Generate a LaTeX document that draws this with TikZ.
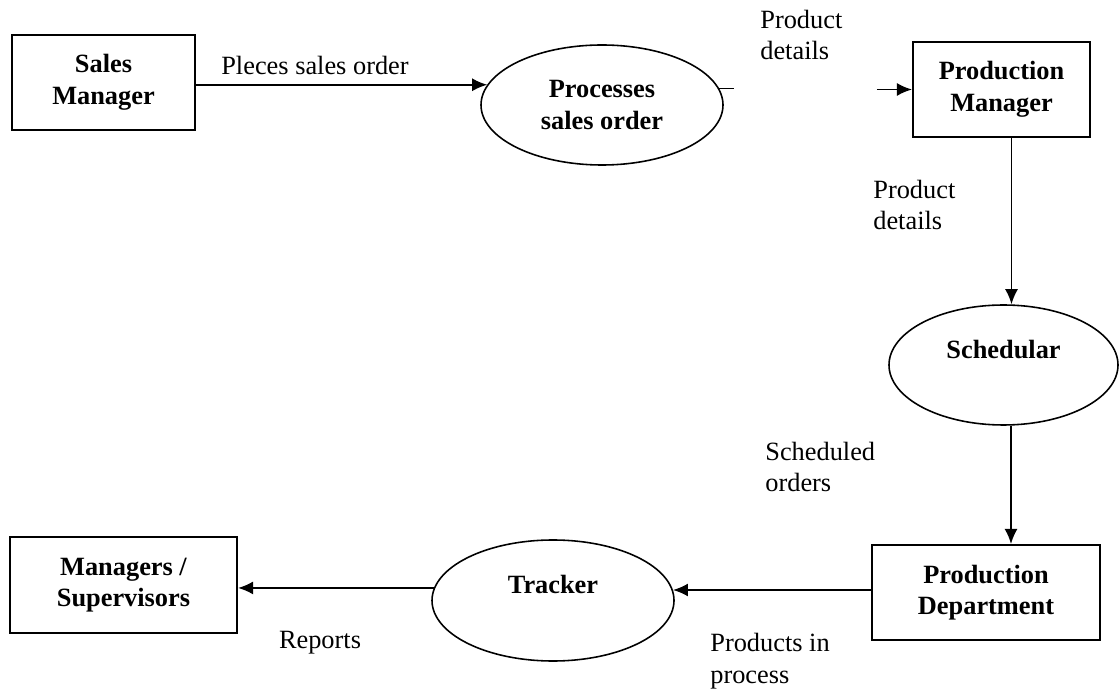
\documentclass[tikz,border=0pt]{standalone}
\usepackage{fontspec}
\setmainfont{Liberation Serif}
\usetikzlibrary{shapes.geometric,arrows.meta}

\begin{document}
\begin{tikzpicture}[
    entity/.style={draw, line width=1.2pt, inner sep=0pt, align=center,
      font=\fontsize{15}{18}\selectfont\bfseries},
    process/.style={draw, ellipse, line width=0.9pt, inner sep=0pt},
    ptext/.style={align=center, font=\fontsize{15}{18}\selectfont\bfseries},
    note/.style={align=left, inner sep=0pt, font=\fontsize{15}{18}\selectfont},
    flow/.style={line width=1pt, -{Latex[length=3mm,width=2.6mm]}}
  ]
  \useasboundingbox (0,0) rectangle (22.4,-13.78);

  % boxes
  \node[entity, minimum width=3.66cm, minimum height=1.9cm] (sm) at (2.07,-1.65) {Sales\\Manager};
  \node[entity, minimum width=3.54cm, minimum height=1.9cm] (pm) at (20.03,-1.79) {Production\\Manager};
  \node[entity, minimum width=4.56cm, minimum height=1.9cm] (pd) at (19.72,-11.85) {Production\\Department};
  \node[entity, minimum width=4.54cm, minimum height=1.92cm] (mg) at (2.47,-11.7) {Managers /\\Supervisors};

  % processes (single line text sits a bit above the middle)
  \node[process, minimum width=4.84cm, minimum height=2.4cm] (pso) at (12.04,-2.1) {};
  \node[ptext] at (pso.center) {Processes\\sales order};
  \node[process, minimum width=4.58cm, minimum height=2.4cm] (sch) at (20.07,-7.3) {};
  \node[ptext] at ([yshift=0.3cm]sch.center) {Schedular};
  \node[process, minimum width=4.84cm, minimum height=2.42cm] (tr) at (11.06,-12.01) {};
  \node[ptext] at ([yshift=0.32cm]tr.center) {Tracker};

  % flows
  \draw[flow] (sm.east |- pso.170) -- (pso.170);
  \coordinate (stub) at ([xshift=0.3cm]pso.8);
  \draw[line width=1pt] (pso.8) -- (stub);
  \coordinate (feed) at ([xshift=-0.7cm]pm.west);
  \draw[flow] (feed) -- (pm.west);
  \draw[flow] ([xshift=0.2cm]pm.south) -- ([xshift=0.2cm]pm.south |- sch.north);
  \draw[flow] ([xshift=0.15cm]sch.south) -- ([xshift=0.15cm]sch.south |- pd.north);
  \draw[flow] (pd.west |- tr.5) -- (tr.5);
  \draw[flow] (tr.174) -- (tr.174 -| mg.east);

  % labels
  \node[note, anchor=center] (l1) at (6.3,-1.3) {Pleces sales order};
  \node[note, anchor=west] (l2) at (15.2,-0.7) {Product\\details};
  \node[note, anchor=west] (l3) at (17.46,-4.1) {Product\\details};
  \node[note, anchor=west] (l4) at (15.3,-9.34) {Scheduled\\orders};
  \node[note, anchor=center] (l5) at (6.4,-12.86) {Reports};
  \node[note, anchor=west] (l6) at (14.2,-13.22) {Products in\\process};
\end{tikzpicture}
\end{document}
